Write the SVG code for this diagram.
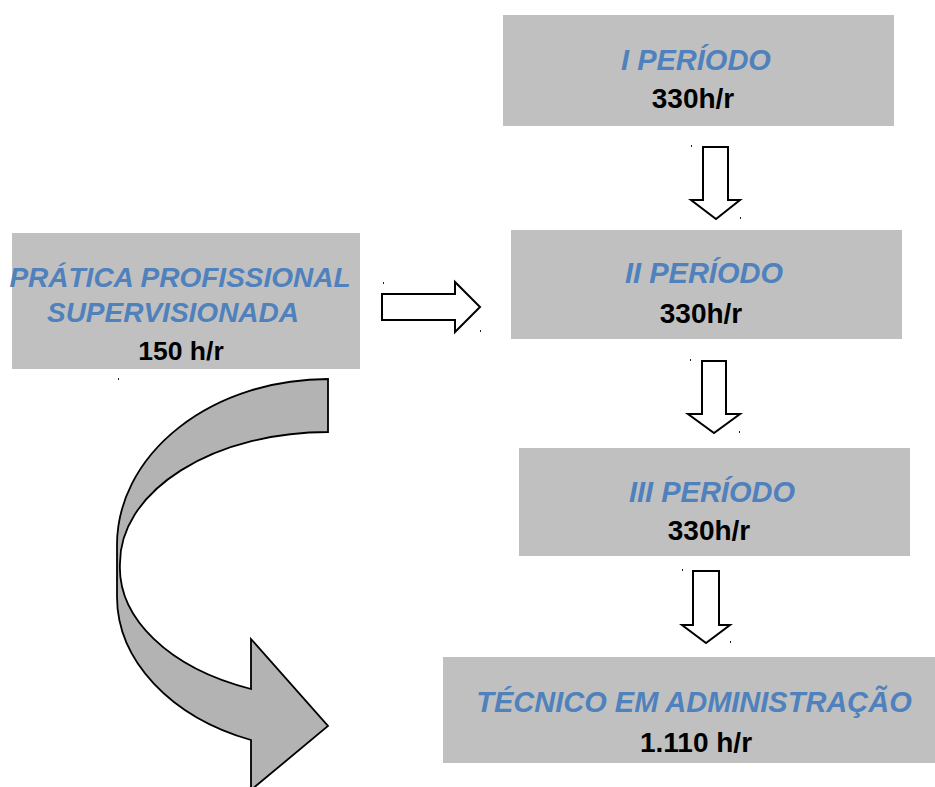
<svg xmlns="http://www.w3.org/2000/svg" width="935" height="787" viewBox="0 0 935 787">
<style>
.box{fill:#c0c0c0}
.t{font-family:"Liberation Sans",Arial,sans-serif;font-weight:bold;font-style:italic;fill:#4f81bd;text-anchor:middle}
.h{font-family:"Liberation Sans",Arial,sans-serif;font-weight:bold;fill:#000;text-anchor:middle}
.blk{fill:#fff;stroke:#000;stroke-width:2;stroke-linejoin:miter}
.dot{fill:#222}
</style>
<rect width="935" height="787" fill="#fff"/>
<g id="periodo1">
<rect class="box" x="503" y="15" width="391" height="111"/>
<text class="t" x="696" y="70" font-size="29">I PERÍODO</text>
<text class="h" x="693" y="108" font-size="28">330h/r</text>
</g>
<g id="periodo2">
<rect class="box" x="511" y="230" width="391" height="109"/>
<text class="t" x="704" y="283" font-size="29">II PERÍODO</text>
<text class="h" x="701" y="323" font-size="28">330h/r</text>
</g>
<g id="periodo3">
<rect class="box" x="519" y="448" width="391" height="108"/>
<text class="t" x="712" y="502" font-size="29">III PERÍODO</text>
<text class="h" x="709" y="540" font-size="28">330h/r</text>
</g>
<g id="tecnico">
<rect class="box" x="443" y="657" width="492" height="106"/>
<text class="t" x="694" y="712" font-size="29">TÉCNICO EM ADMINISTRAÇÃO</text>
<text class="h" x="696" y="752" font-size="28">1.110 h/r</text>
</g>
<g id="pratica">
<rect class="box" x="12" y="233" width="348" height="136"/>
<text class="t" x="180" y="287" font-size="28">PRÁTICA PROFISSIONAL</text>
<text class="t" x="173" y="322" font-size="28">SUPERVISIONADA</text>
<text class="h" x="181" y="360" font-size="26.5">150 h/r</text>
</g>
<g id="connectors">
<path class="blk" d="M382,294 H455 V282 L480,307 L455,332 V320 H382 Z"/>
<path class="blk" d="M703,147 H728 V200 H740 L716,219 L691,200 H703 Z"/>
<path class="blk" d="M702,361 H726 V414 H740 L714,433 L688,414 H702 Z"/>
<path class="blk" d="M693,571 H719 V625 H730 L706,643 L682,625 H693 Z"/>
<path d="M328,379 A211,166 0 0 0 117,545 L117,597 A211,154 0 0 0 251,740 L251,790 L328,726 L251,639 L251,689 A209,131 0 0 1 120,563 A208,131 0 0 1 328,432 Z" fill="#b3b3b3" stroke="#000" stroke-width="1.8" stroke-linejoin="miter"/>
<rect class="dot" x="383" y="282" width="1" height="2"/>
<rect class="dot" x="480" y="330" width="1" height="2"/>
<rect class="dot" x="691" y="145" width="1" height="2"/>
<rect class="dot" x="740" y="217" width="1" height="2"/>
<rect class="dot" x="690" y="359" width="1" height="2"/>
<rect class="dot" x="739" y="431" width="1" height="2"/>
<rect class="dot" x="682" y="569" width="1" height="2"/>
<rect class="dot" x="730" y="641" width="1" height="2"/>
<rect class="dot" x="118" y="378" width="1" height="2"/>
</g>
</svg>
